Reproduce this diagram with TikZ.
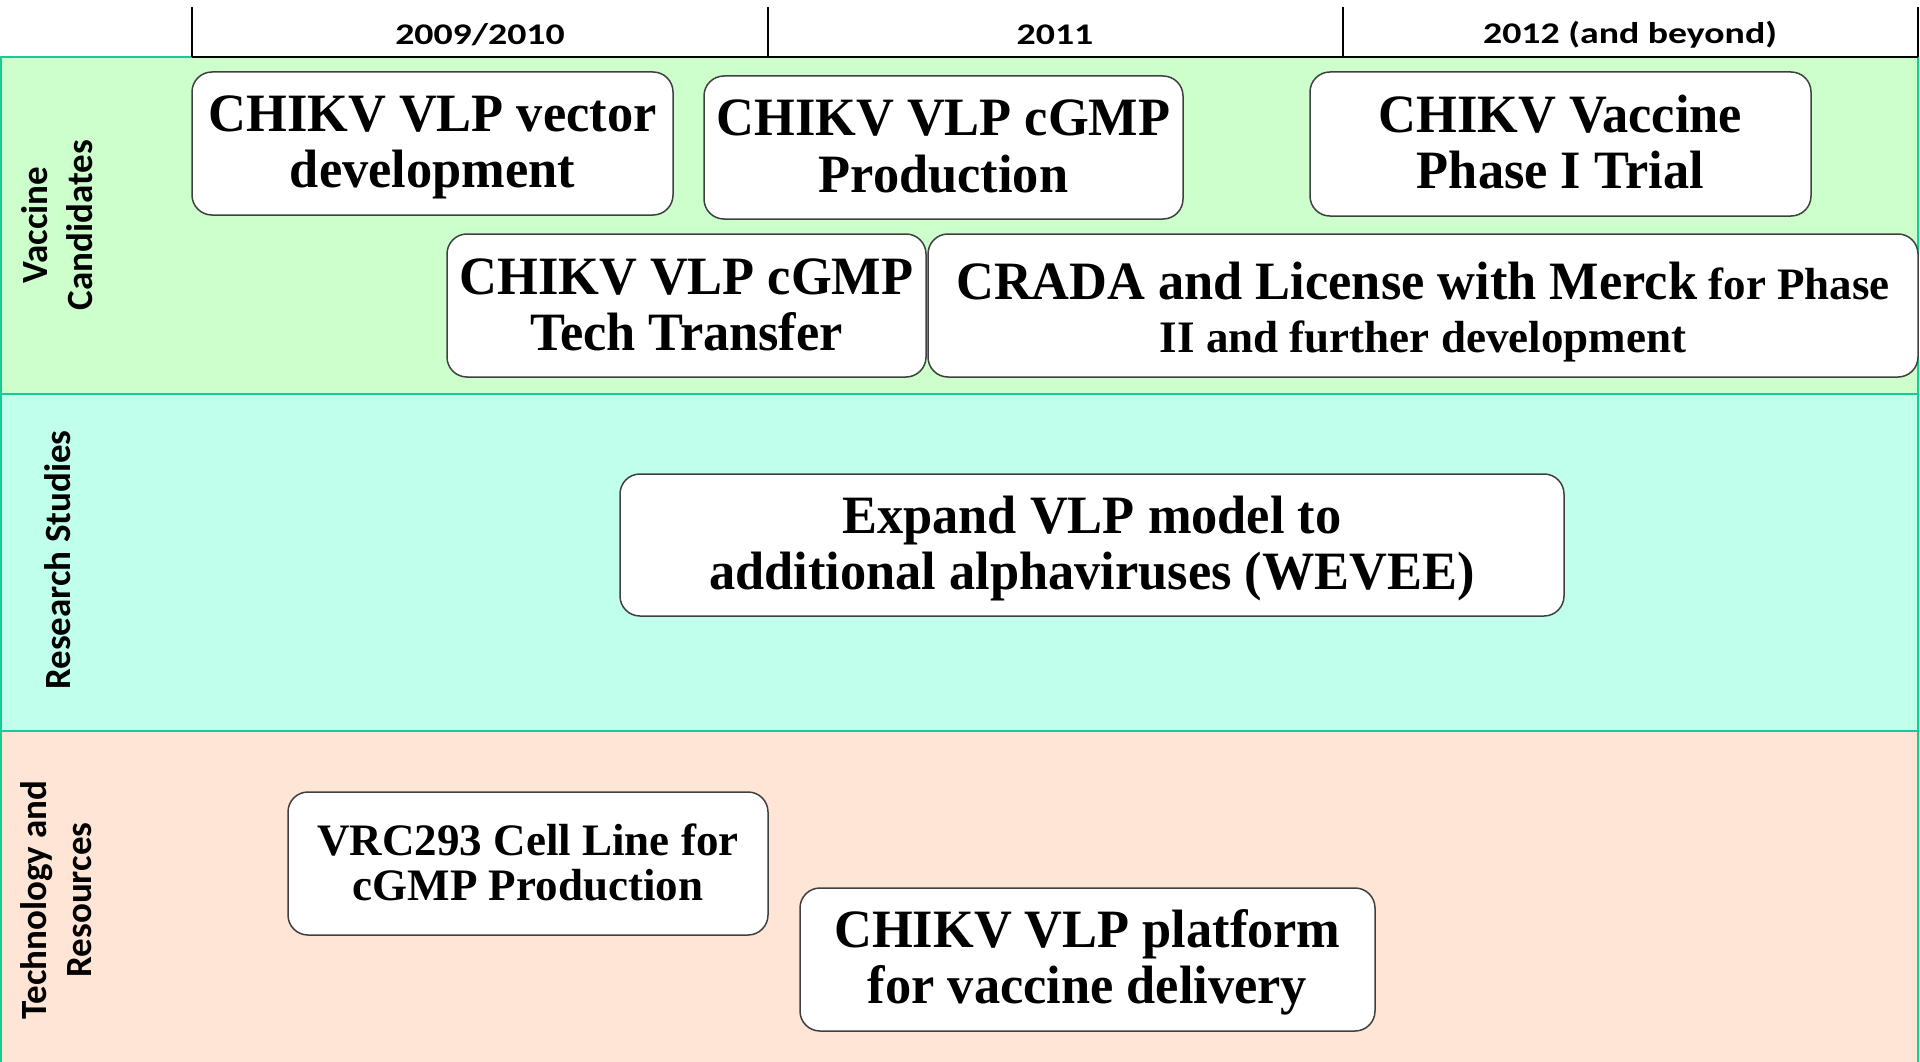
\documentclass[tikz,border=0pt]{standalone}
\usepackage{fontspec}
\setmainfont{Liberation Serif}
\newfontfamily\bigf{Liberation Serif}[FakeStretch=0.97]
\newfontfamily\plainf{Liberation Serif}
\newfontfamily\labf{Carlito}
\newfontfamily\hdrf{Carlito}[FakeStretch=1.26]
\newcommand\topstrut[1]{\rule{0pt}{#1}}
\newcommand\botstrut[1]{\rule[-#1]{0pt}{#1}}
\definecolor{bandgreen}{RGB}{204,255,204}
\definecolor{bandaqua}{RGB}{192,255,236}
\definecolor{bandpeach}{RGB}{255,229,213}
\definecolor{bandline}{RGB}{20,204,150}
\definecolor{boxline}{RGB}{64,64,64}
\tikzset{
  band/.style={draw=bandline, line width=2pt},
  box/.style={draw=boxline, fill=white, line width=1.5pt, rounded corners=20pt,
    inner sep=0pt, align=center, font=\bigf\bfseries\fontsize{54pt}{56pt}\selectfont},
  lab/.style={rotate=90, align=center, font=\labf\bfseries\fontsize{37pt}{45pt}\selectfont},
  hdr/.style={font=\hdrf\bfseries\fontsize{30pt}{36pt}\selectfont},
  tick/.style={line width=2pt, black}
}
\begin{document}
\begin{tikzpicture}[x=1pt, y=-1pt]
\useasboundingbox (0,0) rectangle (1920,1062);
\fill[white] (0,0) rectangle (1920,1062);
% bands
\draw[band, fill=bandgreen] (1,57) rectangle (1918,394);
\draw[band, fill=bandaqua] (1,394) rectangle (1918,731);
\draw[band, fill=bandpeach] (1,731) rectangle (1918,1064);
% header
\coordinate (t0) at (192,7);
\coordinate (t1) at (768,7);
\coordinate (t2) at (1343,7);
\coordinate (t3) at (1918,7);
\coordinate (b0) at (192,57);
\coordinate (b1) at (768,57);
\coordinate (b2) at (1343,57);
\coordinate (b3) at (1918,57);
\draw[tick] (t0) -- (b0);
\draw[tick] (t1) -- (b1);
\draw[tick] (t2) -- (b2);
\draw[tick] (t3) -- (b3);
\draw[tick] (b0) -- (b3);
\node[hdr] (h1) at (480,35) {2009/2010};
\node[hdr] (h2) at (1055,35) {2011};
\node[hdr] (h3) at (1630,35) {2012 (and beyond)};
% lane labels
\node[lab] (l1) at (57,225) {Vaccine\\Candidates};
\node[lab] (l2) at (58,560) {Research Studies};
\node[lab] (l3) at (56,900) {Technology and\\Resources};
% boxes
\node[box, minimum width=481pt, minimum height=143pt] (n1) at (432.5,143.5) {\topstrut{44pt}CHIKV VLP vector\\development};
\node[box, minimum width=479pt, minimum height=143pt] (n2) at (943.5,147.5) {\topstrut{44pt}CHIKV VLP cGMP\\Production\botstrut{11pt}};
\node[box, minimum width=501pt, minimum height=144pt] (n3) at (1560.5,144) {\topstrut{44pt}CHIKV Vaccine\\Phase I Trial\botstrut{11pt}};
\node[box, minimum width=479pt, minimum height=143pt] (n4) at (686.5,305.5) {\topstrut{44pt}CHIKV VLP cGMP\\Tech Transfer\botstrut{11pt}};
\node[box, minimum width=990pt, minimum height=143pt,
  font=\plainf\bfseries\fontsize{45pt}{53pt}\selectfont] (n5) at (1423,305.5)
  {\topstrut{50pt}{\bigf\fontsize{54pt}{53pt}\selectfont CRADA and License with Merck} for Phase\\II and further development};
\node[box, minimum width=944pt, minimum height=142pt] (n6) at (1092,545) {\topstrut{44pt}Expand VLP model to\\additional alphaviruses (WEVEE)};
\node[box, minimum width=480pt, minimum height=143pt,
  font=\plainf\bfseries\fontsize{45pt}{45pt}\selectfont] (n7) at (528,863.5) {VRC293 Cell Line for\\cGMP Production\botstrut{3pt}};
\node[box, minimum width=575pt, minimum height=143pt] (n8) at (1087.5,959.5) {\topstrut{44pt}CHIKV VLP platform\\for vaccine delivery};
\end{tikzpicture}
\end{document}
